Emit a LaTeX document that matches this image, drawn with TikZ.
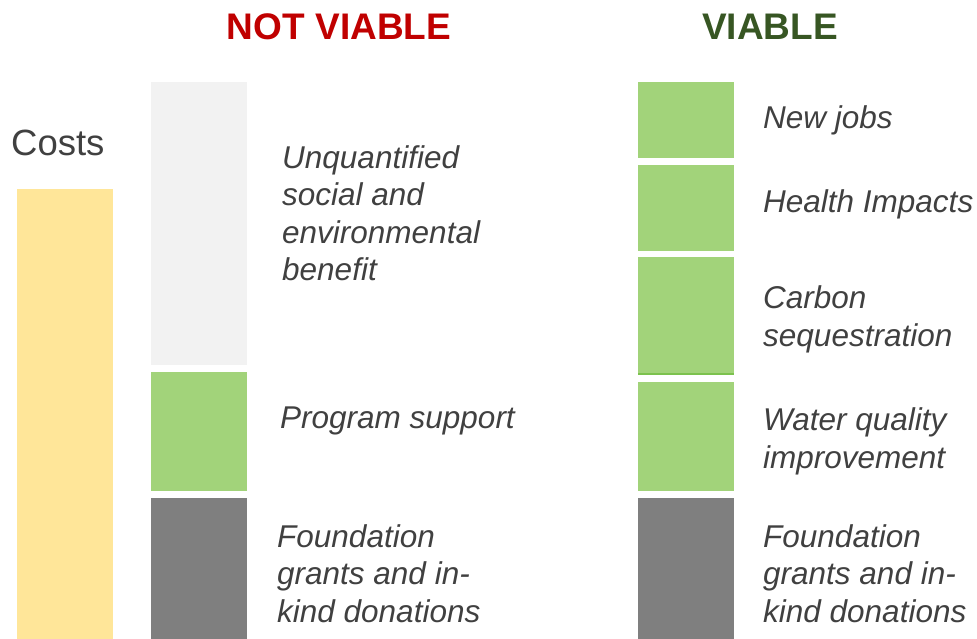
\documentclass[tikz,border=0pt]{standalone}
\usepackage{fontspec}
\setmainfont{Liberation Sans}
\definecolor{costy}{HTML}{FFE699}
\definecolor{lgray}{HTML}{F2F2F2}
\definecolor{bgreen}{HTML}{A2D37A}
\definecolor{dgreenline}{HTML}{7CC24E}
\definecolor{dgray}{HTML}{7F7F7F}
\definecolor{txt}{HTML}{404040}
\definecolor{nvred}{HTML}{C00000}
\definecolor{vgreen}{HTML}{375623}
\begin{document}
\begin{tikzpicture}[x=1pt,y=-1pt,
  lab/.style={anchor=base west,inner sep=0pt,align=left,text=txt,
    font=\fontsize{31.5}{37.5}\selectfont\itshape},
  ttl/.style={anchor=base,inner sep=0pt,font=\fontsize{37}{40}\selectfont\bfseries}]
\useasboundingbox (0,0) rectangle (977,639);
% costs
\fill[costy] (17,189) rectangle (113,639);
\node[anchor=base west,inner sep=0pt,text=txt,font=\fontsize{36.5}{40}\selectfont] (costs) at (11,156) {Costs};
% not viable column
\fill[lgray] (151,82) rectangle (247,365);
\fill[bgreen] (151,372) rectangle (247,491);
\fill[dgray] (151,498) rectangle (247,639);
% viable column
\fill[bgreen] (638,82) rectangle (734,158);
\fill[bgreen] (638,165) rectangle (734,251);
\fill[bgreen] (638,257) rectangle (734,375);
\fill[dgreenline] (638,372.5) rectangle (734,375);
\fill[bgreen] (638,382) rectangle (734,491);
\fill[dgray] (638,498) rectangle (734,639);
% titles
\node[ttl,text=nvred] (nv) at (339,40) {NOT VIABLE};
\node[ttl,text=vgreen] (v) at (770,40) {VIABLE};
% labels (anchor = baseline of the last line)
\node[lab] (unq) at (282,280.5) {Unquantified\\social and\\environmental\\benefit};
\node[lab] (prog) at (280,428) {Program support};
\node[lab] (fl) at (277,622) {Foundation\\grants and in-\\kind donations};
\node[lab] (jobs) at (763,129) {New jobs};
\node[lab] (health) at (763,212) {Health Impacts};
\node[lab] (carbon) at (763,346) {Carbon\\sequestration};
\node[lab] (water) at (763,468) {Water quality\\improvement};
\node[lab] (fr) at (763,622) {Foundation\\grants and in-\\kind donations};
\end{tikzpicture}
\end{document}
